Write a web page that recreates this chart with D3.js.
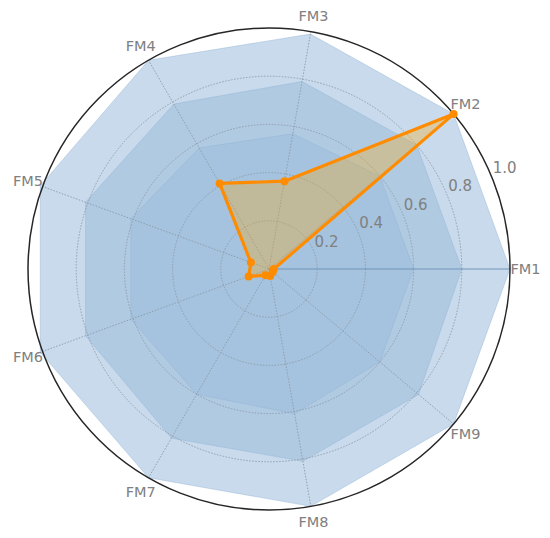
<!DOCTYPE html>
<html>
<head>
<meta charset="utf-8">
<script src="https://cdn.jsdelivr.net/npm/d3@7"></script>
<style>
  body { margin: 0; background: #fff; }
  text { font-family: "DejaVu Sans", sans-serif; fill: #808080; }
</style>
</head>
<body>
<div class="display"></div>
<script>
// radar of the FM scores, three blue bands + one orange sample on top

const WIDTH = 550;
const HEIGHT = 538;
const CX = 269;
const CY = 269;
const RADIUS = 241;

const labels = ['FM1', 'FM2', 'FM3', 'FM4', 'FM5', 'FM6', 'FM7', 'FM8', 'FM9'];
const ticks = [0.2, 0.4, 0.6, 0.8, 1.0];

// blue bands, outer to inner
const bandOuter = [1.0, 1.0, 0.99, 1.0, 1.01, 1.01, 1.0, 1.0, 1.0];
const bandMid = [0.80, 0.80, 0.79, 0.79, 0.81, 0.81, 0.81, 0.81, 0.81];
const bandInner = [0.60, 0.60, 0.57, 0.58, 0.61, 0.61, 0.60, 0.61, 0.60];

// orange sample
const sample = [0.02, 1.0, 0.37, 0.41, 0.08, 0.09, 0.03, 0.03, 0.02];

let svg, chart, r, angle;

function setupSvg() {
  svg = d3.select('.display')
    .append('svg')
    .attr('width', WIDTH)
    .attr('height', HEIGHT);

  chart = svg.append('g')
    .attr('transform', `translate(${CX},${CY})`);

  r = d3.scaleLinear().domain([0, 1]).range([0, RADIUS]);
  // FM1 at 3 o'clock, going counter-clockwise; lineRadial wants clockwise-from-top
  angle = d3.scaleLinear().domain([0, labels.length]).range([Math.PI / 2, Math.PI / 2 - 2 * Math.PI]);
}

function pt(i, v) {
  const a = angle(i);
  return [r(v) * Math.sin(a), -r(v) * Math.cos(a)];
}

function drawBands() {
  const radial = d3.lineRadial()
    .angle((d, i) => angle(i))
    .radius(d => r(d))
    .curve(d3.curveLinearClosed);

  chart.append('g')
    .selectAll('path')
    .data([bandOuter, bandMid, bandInner])
    .enter()
    .append('path')
    .attr('d', radial)
    .attr('fill', '#9dbddb')
    .attr('fill-opacity', 0.56)
    .attr('stroke', '#8fb2d4')
    .attr('stroke-opacity', 0.5)
    .attr('stroke-width', 0.8);
}

function drawGrid() {
  const grid = chart.append('g');

  grid.selectAll('.ring')
    .data(ticks.slice(0, -1))
    .enter()
    .append('circle')
    .attr('class', 'ring')
    .attr('r', d => r(d))
    .attr('fill', 'none')
    .attr('stroke', '#8c98a6')
    .attr('stroke-width', 0.9)
    .attr('stroke-dasharray', '1.5,1.5');

  grid.selectAll('.spoke')
    .data(labels)
    .enter()
    .append('line')
    .attr('class', 'spoke')
    .attr('x1', 0).attr('y1', 0)
    .attr('x2', (d, i) => pt(i, 1)[0])
    .attr('y2', (d, i) => pt(i, 1)[1])
    .attr('stroke', (d, i) => i === 0 ? '#7595b8' : '#8c98a6')
    .attr('stroke-width', (d, i) => i === 0 ? 1.1 : 0.9)
    .attr('stroke-dasharray', (d, i) => i === 0 ? null : '1.5,1.5');

  chart.append('circle')
    .attr('r', r(1))
    .attr('fill', 'none')
    .attr('stroke', '#262626')
    .attr('stroke-width', 1.5);
}

function drawSample() {
  const radial = d3.lineRadial()
    .angle((d, i) => angle(i))
    .radius(d => r(d))
    .curve(d3.curveLinearClosed);

  chart.append('path')
    .datum(sample)
    .attr('d', radial)
    .attr('fill', '#ffa500')
    .attr('fill-opacity', 0.3)
    .attr('stroke', '#ff8c00')
    .attr('stroke-width', 3.2)
    .attr('stroke-linejoin', 'round');

  chart.selectAll('.marker')
    .data(sample)
    .enter()
    .append('circle')
    .attr('class', 'marker')
    .attr('r', 4)
    .attr('fill', '#ff8c00')
    .attr('cx', (d, i) => pt(i, d)[0])
    .attr('cy', (d, i) => pt(i, d)[1]);
}

function drawLabels() {
  // radial tick labels sit along 22.5 degrees
  const a = Math.PI / 8;
  chart.selectAll('.rtick')
    .data(ticks)
    .enter()
    .append('text')
    .attr('class', 'rtick')
    .attr('x', d => r(d) * Math.cos(a) + 13)
    .attr('y', d => -r(d) * Math.sin(a) - 9)
    .attr('text-anchor', 'middle')
    .attr('dominant-baseline', 'central')
    .style('font-size', '15px')
    .text(d => d.toFixed(1));

  chart.selectAll('.axis-label')
    .data(labels)
    .enter()
    .append('text')
    .attr('class', 'axis-label')
    .attr('x', (d, i) => pt(i, 1)[0] + 15.5 * Math.sin(angle(i)))
    .attr('y', (d, i) => pt(i, 1)[1] - 16 * Math.cos(angle(i)))
    .attr('text-anchor', 'middle')
    .attr('dominant-baseline', 'central')
    .style('font-size', '14.5px')
    .text(d => d);
}

setupSvg();
drawBands();
drawGrid();
drawSample();
drawLabels();
</script>
</body>
</html>
